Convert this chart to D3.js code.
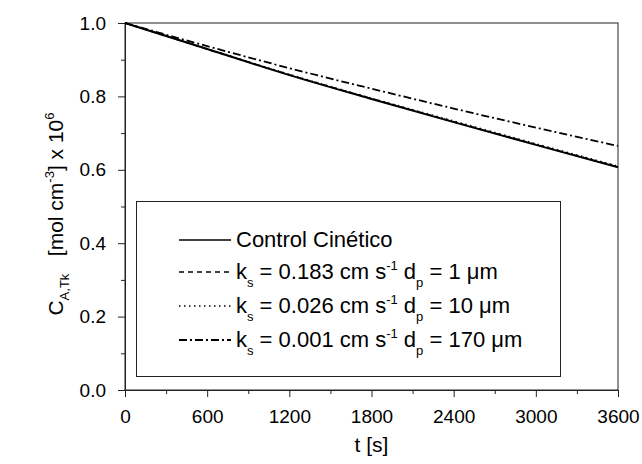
<!DOCTYPE html>
<html>
<head>
<meta charset="utf-8">
<script src="https://cdn.jsdelivr.net/npm/d3@7"></script>
<style>
  body { margin: 0; background: #fff; }
  text { font-family: "Liberation Sans", Arial, sans-serif; fill: #000; }
</style>
</head>
<body>
<script>
// values
var tVals = [0, 600, 1200, 1800, 2400, 3000, 3600];
var cKinetic = [1.0, 0.929, 0.858, 0.793, 0.730, 0.668, 0.607];
var cKs183 = [1.0, 0.929, 0.859, 0.794, 0.731, 0.669, 0.608];
var cKs026 = [1.0, 0.930, 0.860, 0.795, 0.733, 0.671, 0.610];
var cKs001 = [1.0, 0.937, 0.877, 0.821, 0.767, 0.715, 0.665];

var xTicks = [0, 600, 1200, 1800, 2400, 3000, 3600];
var yTicks = [0.0, 0.2, 0.4, 0.6, 0.8, 1.0];

var svgWidth = 642, svgHeight = 464;
var margin = { top: 23, right: 24, bottom: 74, left: 125 };
var chartWidth = svgWidth - margin.left - margin.right;
var chartHeight = svgHeight - margin.top - margin.bottom;

var svg = d3.select("body").append("svg")
  .attr("width", svgWidth)
  .attr("height", svgHeight);

var chartGroup = svg.append("g")
  .attr("transform", `translate(${margin.left}, ${margin.top})`);

var xScale = d3.scaleLinear().domain([0, 3600]).range([0, chartWidth]);
var yScale = d3.scaleLinear().domain([0, 1.0]).range([chartHeight, 0]);

// frame
chartGroup.append("rect")
  .attr("width", chartWidth).attr("height", chartHeight)
  .attr("fill", "none").attr("stroke", "#222").attr("stroke-width", 1);

// minor ticks
var xMinor = d3.axisBottom(xScale).tickValues(d3.range(300, 3600, 600))
  .tickSize(4).tickFormat("");
var yMinor = d3.axisLeft(yScale).tickValues(d3.range(0.1, 1.0, 0.2))
  .tickSize(4).tickFormat("");
chartGroup.append("g").attr("transform", `translate(0, ${chartHeight})`).call(xMinor);
chartGroup.append("g").call(yMinor);

// major axes
var bottomAxis = d3.axisBottom(xScale).tickValues(xTicks).tickSize(7).tickPadding(13)
  .tickFormat(d3.format("d"));
var leftAxis = d3.axisLeft(yScale).tickValues(yTicks).tickSize(7).tickPadding(12)
  .tickFormat(d3.format(".1f"));

chartGroup.append("g").attr("class", "xaxis")
  .attr("transform", `translate(0, ${chartHeight})`).call(bottomAxis);
chartGroup.append("g").attr("class", "yaxis").call(leftAxis);

chartGroup.selectAll(".domain").attr("stroke", "#222");
chartGroup.selectAll(".tick line").attr("stroke", "#222");
chartGroup.selectAll(".tick text")
  .style("font-family", "Liberation Sans, Arial, sans-serif")
  .style("font-size", "19px").attr("fill", "#000");

// curves
var series = [
  { vals: cKinetic, dash: null, width: 2 },
  { vals: cKs183, dash: "5,4", width: 1.5 },
  { vals: cKs026, dash: "1.5,3.5", width: 1.5 },
  { vals: cKs001, dash: "8,3,2,3", width: 1.8 }
];

var drawLine = d3.line()
  .x((d, i) => xScale(tVals[i]))
  .y(d => yScale(d))
  .curve(d3.curveMonotoneX);

series.forEach(function(s) {
  chartGroup.append("path")
    .datum(s.vals)
    .attr("d", drawLine)
    .attr("fill", "none")
    .attr("stroke", "#000")
    .attr("stroke-width", s.width)
    .attr("stroke-dasharray", s.dash);
});

// legend
var legend = svg.append("g");
legend.append("rect")
  .attr("x", 136.5).attr("y", 201.5).attr("width", 424).attr("height", 175)
  .attr("fill", "#fff").attr("stroke", "#222").attr("stroke-width", 1);

var legendRows = [
  { y: 240, parts: [["Control Cinético", 0]] },
  { y: 272, parts: [["k", 0], ["s", 1], [" = 0.183 cm s", 0], ["-1", -1], [" d", 0], ["p", 1], [" = 1 μm", 0]] },
  { y: 306, parts: [["k", 0], ["s", 1], [" = 0.026 cm s", 0], ["-1", -1], [" d", 0], ["p", 1], [" = 10 μm", 0]] },
  { y: 340, parts: [["k", 0], ["s", 1], [" = 0.001 cm s", 0], ["-1", -1], [" d", 0], ["p", 1], [" = 170 μm", 0]] }
];

legendRows.forEach(function(row, i) {
  legend.append("line")
    .attr("x1", 179).attr("x2", 231)
    .attr("y1", row.y).attr("y2", row.y)
    .attr("stroke", "#000")
    .attr("stroke-width", i === 0 ? 1.5 : series[i].width)
    .attr("stroke-dasharray", series[i].dash);

  var txt = legend.append("text")
    .attr("x", 236).attr("y", row.y + 7)
    .attr("xml:space", "preserve")
    .style("font-size", "22px");
  var shift = 0;
  row.parts.forEach(function(p) {
    var target = p[1] === 1 ? 8 : (p[1] === -1 ? -9 : 0);
    txt.append("tspan")
      .attr("dy", target - shift)
      .style("font-size", p[1] === 0 ? "22px" : "13px")
      .text(p[0]);
    shift = target;
  });
});

// axis titles
svg.append("text")
  .attr("x", margin.left + chartWidth / 2)
  .attr("y", 452)
  .attr("text-anchor", "middle")
  .style("font-size", "21px")
  .text("t [s]");

var yTitle = svg.append("text")
  .attr("transform", "translate(63, 214) rotate(-90)")
  .attr("text-anchor", "middle")
  .attr("xml:space", "preserve")
  .style("font-size", "21px");
var yParts = [["C", 0], ["A,Tk", 1], ["   [mol cm", 0], ["-3", -1], ["] x 10", 0], ["6", -1]];
var yShift = 0;
yParts.forEach(function(p) {
  var target = p[1] === 1 ? 6 : (p[1] === -1 ? -9 : 0);
  yTitle.append("tspan")
    .attr("dy", target - yShift)
    .style("font-size", p[1] === 0 ? "21px" : "13px")
    .text(p[0]);
  yShift = target;
});
</script>
</body>
</html>
